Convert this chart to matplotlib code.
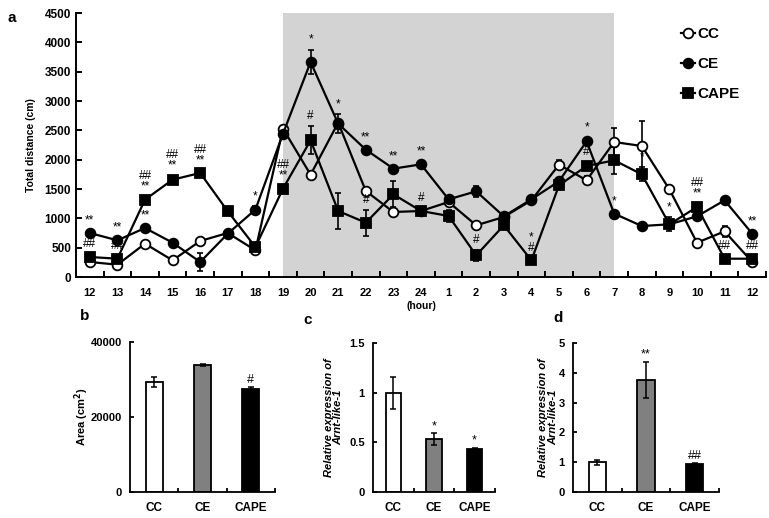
import matplotlib
matplotlib.use("Agg")
import matplotlib.pyplot as plt
import numpy as np

plt.rcParams['font.family'] = ['Liberation Sans', 'DejaVu Sans']
plt.rcParams['font.weight'] = 'bold'
plt.rcParams['axes.labelweight'] = 'bold'

# ---------------- data ----------------
hours = ['12', '13', '14', '15', '16', '17', '18', '19', '20', '21', '22', '23', '24',
         '1', '2', '3', '4', '5', '6', '7', '8', '9', '10', '11', '12']
cc = [256, 210, 568, 284, 614, 750, 455, 2528, 1744, 2631, 1466, 1108, 1125,
      1278, 881, 1023, 1307, 1915, 1648, 2301, 2233, 1494, 585, 778, 256]
ce = [750, 625, 835, 585, 256, 739, 1148, 2443, 3665, 2614, 2170, 1847, 1920,
      1324, 1460, 1034, 1324, 1631, 2313, 1080, 869, 898, 1034, 1307, 739]
cape = [341, 312, 1318, 1659, 1773, 1119, 511, 1506, 2330, 1125, 926, 1409, 1125,
        1040, 369, 881, 284, 1563, 1892, 1989, 1750, 898, 1193, 312, 312]
cc_err = [30, 30, 30, 30, 30, 40, 30, 40, 30, 30, 40, 30, 30,
          30, 30, 40, 40, 80, 70, 240, 420, 40, 40, 90, 30]
ce_err = [40, 40, 40, 40, 150, 40, 60, 60, 210, 160, 40, 40, 40,
          60, 90, 60, 60, 60, 60, 40, 40, 40, 60, 40, 40]
cape_err = [40, 40, 50, 70, 40, 40, 40, 60, 240, 310, 220, 220, 50,
            100, 90, 60, 40, 60, 60, 230, 120, 120, 60, 40, 40]
dark_start, dark_end = 7, 19  # indices of hour 19 and hour 7

# significance marks: (index, series, text)
marks = [(0, 'CE', '**'), (0, 'CAPE', '##'),
         (1, 'CE', '**'), (1, 'CAPE', '##'),
         (2, 'CAPE', '##\n**'), (2, 'CE', '**'),
         (3, 'CAPE', '##\n**'), (4, 'CAPE', '##\n**'),
         (6, 'CE', '*'), (7, 'CAPE', '##\n**'),
         (8, 'CE', '*'), (8, 'CAPE', '#'),
         (9, 'CE', '*'),
         (10, 'CE', '**'), (10, 'CAPE', '#'),
         (11, 'CE', '**'),
         (12, 'CE', '**'), (12, 'CAPE', '#'),
         (14, 'CAPE', '#'), (16, 'CAPE', '*\n#'),
         (18, 'CE', '*'), (18, 'CAPE', '#'),
         (19, 'CE', '*'), (20, 'CAPE', '*'), (21, 'CAPE', '*'),
         (22, 'CAPE', '##\n**'), (23, 'CAPE', '##'),
         (24, 'CE', '**'), (24, 'CAPE', '##')]

groups = ['CC', 'CE', 'CAPE']
area = [29400, 33870, 27470]
area_err = [1300, 200, 500]
area_marks = ['', '', '#']
arnt_c = [1.0, 0.53, 0.433]
arnt_c_err = [0.16, 0.06, 0.01]
arnt_c_marks = ['', '*', '*']
arnt_d = [1.0, 3.76, 0.94]
arnt_d_err = [0.08, 0.6, 0.02]
arnt_d_marks = ['', '**', '##']
bar_colors = ['white', '#808080', 'black']

W, H = 769, 518
fig = plt.figure(figsize=(W / 100, H / 100), dpi=100)


def box(l, t, r, b):
    return [l / W, 1 - b / H, (r - l) / W, (b - t) / H]


def style(ax, lw=1.4):
    for s in ['top', 'right']:
        ax.spines[s].set_visible(False)
    for s in ['left', 'bottom']:
        ax.spines[s].set_linewidth(lw)
    ax.tick_params(axis='both', which='both', direction='in', width=lw)


# ---------------- panel a ----------------
ax = fig.add_axes(box(76, 13, 766, 277))
x = np.arange(len(hours))
ax.axvspan(dark_start, dark_end, ymin=0, ymax=1, color='#d3d3d3', zorder=0, lw=0)
series = {'CC': (cc, cc_err, 'o', 'white'),
          'CE': (ce, ce_err, 'o', 'black'),
          'CAPE': (cape, cape_err, 's', 'black')}
for name in ['CC', 'CE', 'CAPE']:
    vals, err, mk, fc = series[name]
    ax.errorbar(x, vals, yerr=err, fmt='none', ecolor='black', capsize=2,
                elinewidth=1.2, capthick=1.2, zorder=2.5)
    ax.plot(x, vals, color='black', lw=1.6, marker=mk, ms=7,
            mfc=fc, mec='black', mew=1.3, label=name, zorder=3)
for i, s, t in marks:
    vals, err, mk, fc = series[s]
    ax.annotate(t, (x[i], vals[i] + err[i]), xytext=(0, 3), textcoords='offset points',
                ha='center', va='bottom', fontsize=8.5, fontweight='normal',
                linespacing=0.8, zorder=4)
ax.set_xlim(-0.5, len(hours) - 0.5)
ax.set_ylim(0, 4500)
ax.set_yticks(np.arange(0, 4501, 500))
ax.set_xticks(x)
ax.set_xticklabels(hours)
ax.set_xticks(np.arange(-0.5, len(hours), 1), minor=True)
style(ax)
ax.tick_params(axis='x', which='major', length=0, labelsize=8, pad=8)
ax.tick_params(axis='x', which='minor', length=4)
ax.tick_params(axis='y', length=4, labelsize=8.5)
ax.set_ylabel('Total distance (cm)', fontsize=7.5, labelpad=6)
ax.set_xlabel('(hour)', fontsize=7.5, labelpad=2)
leg = fig.legend(*ax.get_legend_handles_labels(), loc='upper left',
                 bbox_to_anchor=(681 / W, 1 - 27 / H), frameon=False,
                 fontsize=11, handlelength=0.9, handletextpad=0.15, labelspacing=1.05,
                 borderpad=0, borderaxespad=0)
for t in leg.get_texts():
    t.set_fontweight('bold')
fig.text(8 / W, 1 - 18 / H, 'a', fontsize=11, fontweight='bold', va='center')


# ---------------- bar panels ----------------
def bar_panel(rect, vals, errs, mks, ylim, yticks, ylabel, letter, lpos, italic=False,
              ticklabels=None, width=0.36, labelx=None):
    bx = fig.add_axes(rect)
    xb = np.arange(len(groups))
    bx.bar(xb, vals, width=width, color=bar_colors, edgecolor='black', lw=1.3, zorder=2)
    bx.errorbar(xb, vals, yerr=errs, fmt='none', ecolor='black', elinewidth=1.1,
                capsize=2, capthick=1.1, zorder=3)
    for i in range(len(groups)):
        if mks[i]:
            bx.annotate(mks[i], (xb[i], vals[i] + errs[i]), xytext=(0, 1),
                        textcoords='offset points', ha='center', va='bottom',
                        fontsize=9, fontweight='normal')
    bx.set_xlim(-0.5, len(groups) - 0.5)
    bx.set_ylim(*ylim)
    bx.set_yticks(yticks)
    if ticklabels is not None:
        bx.set_yticklabels(ticklabels)
    bx.set_xticks(xb)
    bx.set_xticklabels(groups)
    bx.set_xticks(np.arange(0.5, len(groups), 1), minor=True)
    style(bx, 1.3)
    bx.tick_params(axis='x', which='major', length=0, labelsize=8.5, pad=7)
    bx.tick_params(axis='x', which='minor', length=3)
    bx.tick_params(axis='y', length=3, labelsize=8, pad=6)
    bx.set_ylabel(ylabel, fontsize=8, style='italic' if italic else 'normal',
                  labelpad=4, linespacing=1.0)
    if labelx is not None:
        bx.yaxis.set_label_coords(labelx, 0.5)
    fig.text(lpos[0] / W, 1 - lpos[1] / H, letter, fontsize=11, fontweight='bold', va='center')
    return bx


bar_panel(box(130, 342, 275, 492), area, area_err, area_marks, (0, 40000),
          [0, 20000, 40000], 'Area (cm$^\\mathbf{2}$)', 'b', (80, 316), width=0.35,
          labelx=-0.27)
bar_panel(box(373, 343, 495, 492), arnt_c, arnt_c_err, arnt_c_marks, (0, 1.5),
          [0, 0.5, 1, 1.5], 'Relative expression of\nArnt-like-1', 'c', (303, 320),
          italic=True, ticklabels=['0', '0.5', '1', '1.5'], width=0.37, labelx=-0.24)
bar_panel(box(573, 343, 719, 492), arnt_d, arnt_d_err, arnt_d_marks, (0, 5),
          [0, 1, 2, 3, 4, 5], 'Relative expression of\nArnt-like-1', 'd', (553, 318),
          italic=True, width=0.36, labelx=-0.10)

fig.savefig('out.png', dpi=100)
